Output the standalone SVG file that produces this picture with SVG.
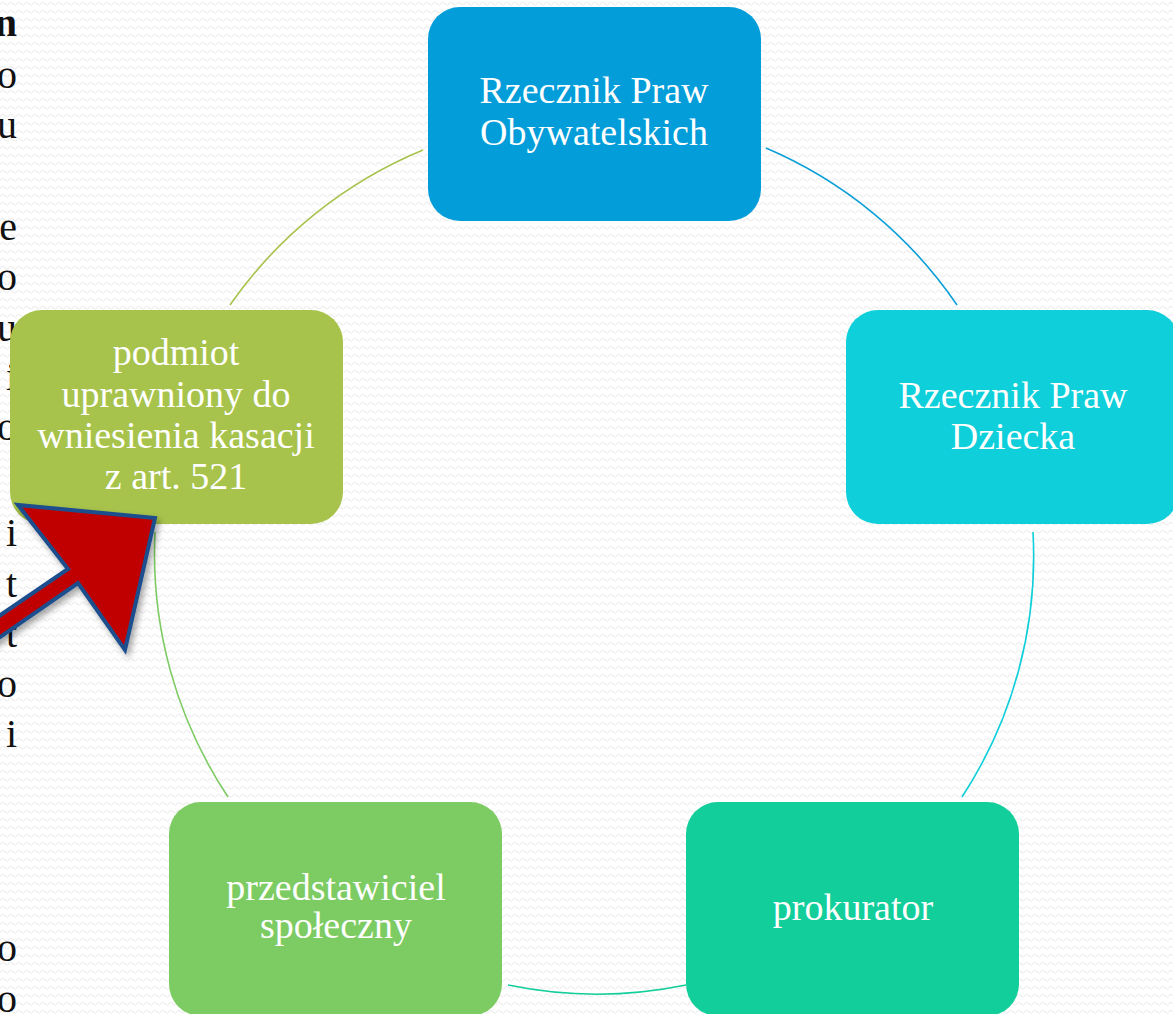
<svg xmlns="http://www.w3.org/2000/svg" width="1173" height="1014" viewBox="0 0 1173 1014">
<defs>
<pattern id="bgpat" x="0" y="0" width="8" height="8" patternUnits="userSpaceOnUse">
<path d="M0 5 Q2 1 4 3 T8 5" fill="none" stroke="#efefef" stroke-width="1.2"/>
</pattern>
<filter id="shadow" x="-20%" y="-20%" width="140%" height="140%">
<feDropShadow dx="3" dy="4" stdDeviation="3" flood-color="#000" flood-opacity="0.35"/>
</filter>
<style>
.bg{fill:url(#bgpat)}
.side{font-family:"Liberation Serif","DejaVu Serif",serif;font-size:40px;fill:#111;text-anchor:end}
.node rect{stroke:none}
.lbl{font-family:"Liberation Serif","DejaVu Serif",serif;font-size:38px;fill:#ffffff;text-anchor:middle}
.arc{fill:none;stroke-width:1.6}
</style>
</defs>
<rect x="0" y="0" width="1173" height="1014" fill="#ffffff"/>
<rect class="bg" x="0" y="0" width="1173" height="1014"/>

<g id="side-text">
<text class="side" x="17" y="36" font-weight="bold">n</text>
<text class="side" x="17" y="88">o</text>
<text class="side" x="17" y="138">u</text>
<text class="side" x="17" y="240">e</text>
<text class="side" x="17" y="290">o</text>
<text class="side" x="17" y="341">u</text>
<text class="side" x="17" y="390">i</text>
<text class="side" x="17" y="440">o</text>
<text class="side" x="17" y="546">i</text>
<text class="side" x="17" y="597">t</text>
<text class="side" x="17" y="647">t</text>
<text class="side" x="17" y="697">o</text>
<text class="side" x="17" y="747">i</text>
<text class="side" x="17" y="961">o</text>
<text class="side" x="17" y="1012">o</text>
</g>

<g id="connectors">
<path class="arc" stroke="#0a9fd8" d="M766 148 A440 440 0 0 1 957 305"/>
<path class="arc" stroke="#0ecfda" d="M1033 532 A440 440 0 0 1 962 797"/>
<path class="arc" stroke="#12ce9b" d="M686 985 A440 440 0 0 1 508 985"/>
<path class="arc" stroke="#7dcb63" d="M228 797 A440 440 0 0 1 155 532"/>
<path class="arc" stroke="#a7c34b" d="M230 305 A440 440 0 0 1 423 150"/>
</g>

<g id="node-rpo" class="node">
<rect x="428" y="7" width="333" height="214" rx="32" fill="#039dd9"/>
<text class="lbl" x="594" y="103">Rzecznik Praw</text>
<text class="lbl" x="594" y="145">Obywatelskich</text>
</g>

<g id="node-rpd" class="node">
<rect x="846" y="310" width="333" height="214" rx="32" fill="#0ecfda"/>
<text class="lbl" x="1013" y="408">Rzecznik Praw</text>
<text class="lbl" x="1013" y="449">Dziecka</text>
</g>

<g id="node-prokurator" class="node">
<rect x="686" y="802" width="333" height="214" rx="32" fill="#12ce9b"/>
<text class="lbl" x="853" y="920">prokurator</text>
</g>

<g id="node-przedstawiciel" class="node">
<rect x="169" y="802" width="333" height="214" rx="32" fill="#7dcb63"/>
<text class="lbl" x="336" y="900">przedstawiciel</text>
<text class="lbl" x="336" y="938">społeczny</text>
</g>

<g id="node-podmiot" class="node">
<rect x="10" y="310" width="333" height="214" rx="32" fill="#a7c34b"/>
<text class="lbl" x="176" y="365">podmiot</text>
<text class="lbl" x="176" y="407">uprawniony do</text>
<text class="lbl" x="176" y="448">wniesienia kasacji</text>
<text class="lbl" x="176" y="489">z art. 521</text>
</g>

<g id="red-arrow" filter="url(#shadow)">
<polygon points="155,518 18,505 68,569 -20,629 -20,651 78,583 125,650" fill="#c00000" stroke="#1f4e8c" stroke-width="4" stroke-linejoin="miter"/>
</g>
</svg>
